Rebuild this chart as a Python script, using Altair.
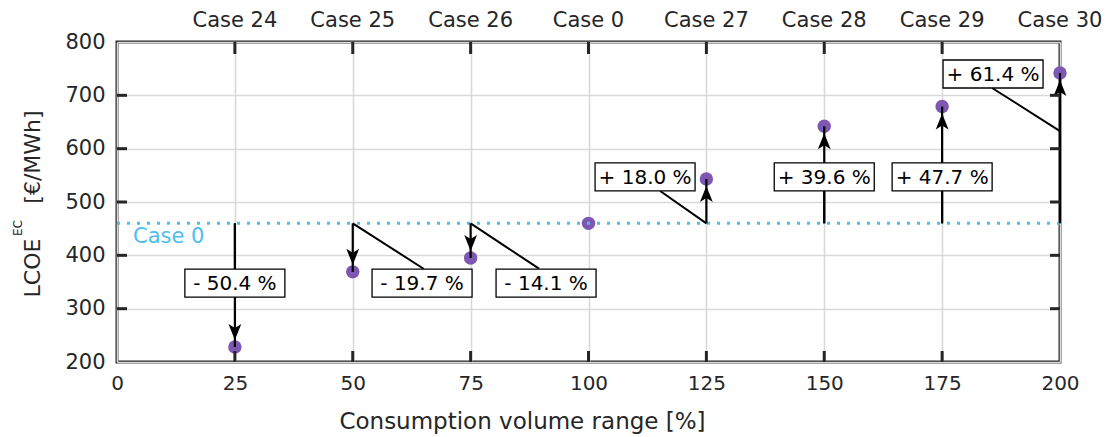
import altair as alt
import pandas as pd

# ---- data ----
volume = [25, 50, 75, 100, 125, 150, 175, 200]
lcoe = [228, 369, 395, 460, 543, 642, 679, 742]
case_labels = ["Case 24", "Case 25", "Case 26", "Case 0", "Case 27", "Case 28", "Case 29", "Case 30"]
base_value = 460

ann_x = [25, 50, 75, 125, 150, 175, 200]
ann_val = [228, 369, 395, 543, 642, 679, 742]
ann_text = ["- 50.4 %", "- 19.7 %", "- 14.1 %", "+ 18.0 %", "+ 39.6 %", "+ 47.7 %", "+ 61.4 %"]
box_x = [25, 64.7, 91.0, 112.0, 150, 175, 185.8]
box_y = [348, 348, 348, 547, 547, 547, 740]
conn_x0 = [25, 50, 75, 125, 150, 175, 200]
conn_y0 = [460, 460, 460, 460, 460, 460, 633]
conn_x1 = [25, 65.1, 89.5, 115.2, 150, 175, 185.6]
conn_y1 = [348, 374.4, 375, 520.6, 547, 547, 713.8]

x_ticks = [0, 25, 50, 75, 100, 125, 150, 175, 200]
y_ticks = [200, 300, 400, 500, 600, 700, 800]
inner_x_ticks = [25, 50, 75, 100, 125, 150, 175]
inner_y_ticks = [300, 400, 500, 600, 700]

FONT = "DejaVu Sans"
TXT = "#262626"
PURPLE = "#7E57B3"
CYAN = "#4DBEEE"
W, H = 943, 320

pts = pd.DataFrame({"x": volume, "y": lcoe, "label": case_labels})
ann = pd.DataFrame({
    "x": ann_x, "val": ann_val, "text": ann_text,
    "bx": box_x, "by": box_y,
    "x0": conn_x0, "y0": conn_y0, "x1": conn_x1, "y1": conn_y1,
    "base": [base_value] * len(ann_x),
})
ann["dir"] = ["down" if v < base_value else "up" for v in ann_val]

xs = alt.Scale(domain=[0, 200], nice=False, zero=False)
ys = alt.Scale(domain=[200, 800], nice=False, zero=False)

ax = alt.Axis(
    values=x_ticks, title="Consumption volume range [%]", grid=True,
    gridColor="#d9d9d9", gridWidth=1.6, tickSize=0, ticks=False, domain=False,
    labelPadding=11, labelFontSize=20, labelFont=FONT, labelColor=TXT,
    labelFlush=False, labelOverlap=False,
    titleFont=FONT, titleFontSize=23, titleFontWeight="normal", titleColor=TXT,
    titleX=405, titleY=59, titleBaseline="middle")
ay = alt.Axis(
    values=y_ticks, title=None, grid=True, gridColor="#d9d9d9", gridWidth=1.6,
    tickSize=0, ticks=False, domain=False, labelPadding=12, labelFontSize=21,
    labelFont=FONT, labelColor=TXT, labelFlush=False, labelOverlap=False)


def X(f):
    return alt.X(f, type="quantitative", scale=xs, axis=ax)


def Y(f):
    return alt.Y(f, type="quantitative", scale=ys, axis=ay)


points = alt.Chart(pts).mark_circle(size=180, color=PURPLE, opacity=1).encode(
    x=X("x"), y=Y("y"))

baseline = alt.Chart(pd.DataFrame({"y": [base_value]})).mark_rule(
    color=CYAN, strokeDash=[3, 7], strokeWidth=3).encode(y=Y("y"))

case0 = alt.Chart(pd.DataFrame({"x": [3.4], "y": [434], "t": ["Case 0"]})).mark_text(
    align="left", baseline="middle", fontSize=21, font=FONT, color=CYAN).encode(
    x=X("x"), y=Y("y"), text="t:N")

connectors = alt.Chart(ann).mark_rule(color="black", strokeWidth=2).encode(
    x=X("x0"), y=Y("y0"), x2="x1:Q", y2="y1:Q")

stems = alt.Chart(ann).mark_rule(color="black", strokeWidth=2.2).encode(
    x=X("x"), y=Y("base"), y2="val:Q")

down_path = "M0,1L-0.8,-1L0,-0.5L0.8,-1Z"
up_path = "M0,-1L-0.8,1L0,0.5L0.8,1Z"
heads_down = alt.Chart(ann).transform_filter(alt.datum.dir == "down").mark_point(
    shape=down_path, size=256, filled=True, color="black", opacity=1, yOffset=-15).encode(
    x=X("x"), y=Y("val"))
heads_up = alt.Chart(ann).transform_filter(alt.datum.dir == "up").mark_point(
    shape=up_path, size=256, filled=True, color="black", opacity=1, yOffset=15).encode(
    x=X("x"), y=Y("val"))

box_path = "M-1,-0.28L1,-0.28L1,0.28L-1,0.28Z"
boxes = alt.Chart(ann).mark_point(
    shape=box_path, size=10000, filled=True, fill="white", stroke="black",
    strokeWidth=1.3, opacity=1, fillOpacity=1, strokeOpacity=1).encode(
    x=X("bx"), y=Y("by"))
box_text = alt.Chart(ann).mark_text(
    fontSize=20, font=FONT, color="black", baseline="middle", dy=1).encode(
    x=X("bx"), y=Y("by"), text="text:N")

# inward ticks on all four sides
tick_style = dict(color=TXT, strokeWidth=3)
tx = pd.DataFrame({"x": inner_x_ticks})
ty = pd.DataFrame({"y": inner_y_ticks})
ticks_bottom = alt.Chart(tx).mark_rule(**tick_style).encode(
    x=X("x"), y=alt.value(H), y2=alt.value(H - 11))
ticks_top = alt.Chart(tx).mark_rule(**tick_style).encode(
    x=X("x"), y=alt.value(0), y2=alt.value(12))
ticks_left = alt.Chart(ty).mark_rule(**tick_style).encode(
    y=Y("y"), x=alt.value(0), x2=alt.value(10))
ticks_right = alt.Chart(ty).mark_rule(**tick_style).encode(
    y=Y("y"), x=alt.value(W), x2=alt.value(W - 10))

top_labels = alt.Chart(pts).mark_text(
    fontSize=21, font=FONT, color=TXT, baseline="middle").encode(
    x=X("x"), y=alt.value(-21), text="label:N")


def ytext(t, px, py, fs):
    return alt.Chart(pd.DataFrame({"t": [t]})).mark_text(
        font=FONT, color=TXT, angle=270, align="center", baseline="middle",
        fontSize=fs).encode(x=alt.value(px), y=alt.value(py), text="t:N")


ytitle_units = ytext("[€/MWh]", -84, 115, 22)
ytitle_sup = ytext("EC", -99, 186, 12)
ytitle_main = ytext("LCOE", -84, 226, 22)

chart = alt.layer(
    points, baseline, case0, connectors, stems, boxes, box_text,
    heads_down, heads_up, ticks_bottom, ticks_top, ticks_left, ticks_right,
    top_labels, ytitle_units, ytitle_sup, ytitle_main,
).properties(
    width=W, height=H,
    autosize=alt.AutoSizeParams(type="none"),
    padding={"left": 117, "top": 42, "right": 53, "bottom": 75},
    background="white",
).configure_view(stroke=TXT, strokeWidth=3)

chart.save("out.html", embed_options={"renderer": "svg", "actions": False})
